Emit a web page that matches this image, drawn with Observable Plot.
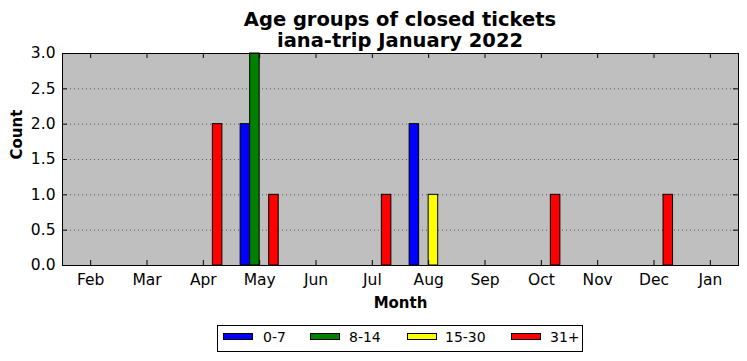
<!DOCTYPE html>
<html>
<head>
<meta charset="utf-8">
<script src="https://cdn.jsdelivr.net/npm/d3@7"></script>
<script src="https://cdn.jsdelivr.net/npm/@observablehq/plot@0.6"></script>
<style>
  html, body { margin: 0; padding: 0; background: white; }
  #wrap { position: relative; width: 747px; height: 361px; font-family: "DejaVu Sans", sans-serif; }
  #title { position: absolute; left: 62px; width: 676px; top: 9px; text-align: center; font-weight: bold; font-size: 19.5px; line-height: 21px; color: black; }
  #legend { position: absolute; left: 217px; top: 325px; width: 364px; height: 25px; border: 1px solid black; background: white; }
  .sw { position: absolute; top: 7px; width: 28px; height: 5px; border: 1px solid black; }
  .lb { position: absolute; top: 3px; font-size: 14px; line-height: 16px; color: black; }
</style>
</head>
<body>
<div id="wrap">
  <div id="chart"></div>
  <div id="title">Age groups of closed tickets<br>iana-trip January 2022</div>
  <div id="legend"></div>
</div>
<script>
const months = ["Feb","Mar","Apr","May","Jun","Jul","Aug","Sep","Oct","Nov","Dec","Jan"];
const groups = ["0-7","8-14","15-30","31+"];
const groupColors = ["#0000ff","#008000","#ffff00","#ff0000"];
const counts_0_7   = [0,0,0,2,0,0,2,0,0,0,0,0];
const counts_8_14  = [0,0,0,3,0,0,0,0,0,0,0,0];
const counts_15_30 = [0,0,0,0,0,0,1,0,0,0,0,0];
const counts_31    = [0,0,2,1,0,1,0,0,1,0,1,0];
const yTicks = [0,0.5,1,1.5,2,2.5,3];

const series = [counts_0_7, counts_8_14, counts_15_30, counts_31];
const barW = 0.169;
const bars = [];
series.forEach((vals, g) => vals.forEach((v, i) => {
  bars.push({month: i, group: groups[g], count: v, x1: i + (g - 2) * barW, x2: i + (g - 1) * barW});
}));
const monthIdx = months.map((m, i) => i);

const W = 747, H = 361, mL = 62, mR = 9, mT = 53, mB = 96;
const fw = W - mL - mR, fh = H - mT - mB;

const chart = Plot.plot({
  width: W, height: H,
  marginLeft: mL, marginRight: mR, marginTop: mT, marginBottom: mB,
  x: {domain: [-0.5, 11.5]},
  y: {domain: [0, 3]},
  color: {domain: groups, range: groupColors},
  style: {fontFamily: "DejaVu Sans", fontSize: "15.5px", background: "white", color: "black", overflow: "visible"},
  marks: [
    Plot.frame({fill: "#bfbfbf", stroke: "none"}),
    Plot.gridY(yTicks.filter(v => v > 0 && v < 3), {stroke: "#555", strokeOpacity: 1, strokeDasharray: "1,3"}),
    Plot.rectY(bars, {x1: "x1", x2: "x2", y1: 0, y2: "count", fill: "group", stroke: "black", strokeWidth: 1}),
    Plot.frame({stroke: "black", strokeWidth: 1}),
    Plot.tickX(monthIdx, {x: d => d, insetTop: fh - 5, stroke: "black"}),
    Plot.tickX(monthIdx, {x: d => d, insetBottom: fh - 5, stroke: "black"}),
    Plot.tickY(yTicks, {y: d => d, insetRight: fw - 5, stroke: "black"}),
    Plot.tickY(yTicks, {y: d => d, insetLeft: fw - 5, stroke: "black"}),
    Plot.axisX(monthIdx, {tickSize: 0, tickPadding: 8, tickFormat: i => months[i], fontSize: 15.5, label: null}),
    Plot.axisY(yTicks, {tickSize: 0, tickPadding: 7, tickFormat: d3.format(".1f"), fontSize: 15.5, label: null}),
    Plot.text(["Count"], {frameAnchor: "left", dx: -45, rotate: -90, fontWeight: "bold", fontSize: 15}),
    Plot.text(["Month"], {frameAnchor: "bottom", dy: 42, fontWeight: "bold", fontSize: 15})
  ]
});
document.getElementById("chart").appendChild(chart);

const legend = document.getElementById("legend");
const swX = [5, 92, 189, 293];
const lbX = [45, 131, 227, 332];
groups.forEach((g, k) => {
  const s = document.createElement("div");
  s.className = "sw"; s.style.left = swX[k] + "px"; s.style.background = groupColors[k];
  legend.appendChild(s);
  const l = document.createElement("div");
  l.className = "lb"; l.style.left = lbX[k] + "px"; l.textContent = g;
  legend.appendChild(l);
});
</script>
</body>
</html>
